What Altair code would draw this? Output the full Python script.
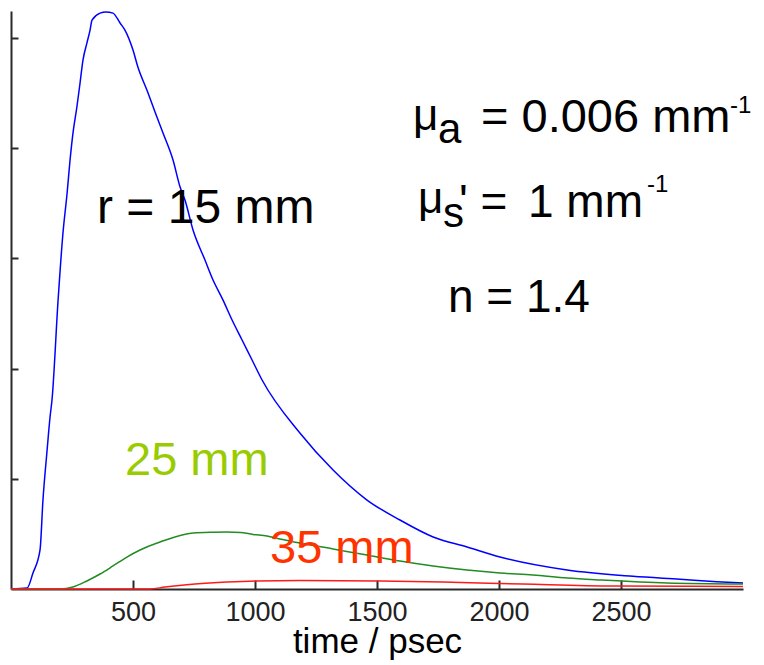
import altair as alt
import pandas as pd

# ---- data (time in ps, signal in arbitrary units) ----
t_15 = [0, 66, 90, 119, 131, 148, 160, 168, 193, 213, 230, 242, 254, 270, 283, 295, 311, 324, 332,
        365, 389, 418, 447, 467, 500, 520, 557, 598, 623, 664, 693, 713, 746, 795, 828, 869, 906,
        947, 988, 1029, 1184, 1320, 1459, 1594, 1730, 1869, 2004, 2279, 2549, 2742, 2893, 3000]
s_15 = [0, 0.009, 0.145, 0.354, 0.807, 1.261, 1.560, 1.714, 2.621, 3.229, 3.592, 3.891, 4.136,
        4.372, 4.590, 4.798, 4.952, 5.070, 5.161, 5.224, 5.235, 5.224, 5.134, 5.070, 4.889, 4.735,
        4.526, 4.281, 4.136, 3.891, 3.646, 3.528, 3.256, 2.984, 2.803, 2.621, 2.440, 2.259, 2.077,
        1.896, 1.415, 1.079, 0.807, 0.626, 0.472, 0.381, 0.290, 0.172, 0.115, 0.088, 0.066, 0.054]

t_25 = [0, 201, 254, 311, 365, 418, 475, 529, 611, 746, 830, 885, 940, 992, 1049, 1102, 1184, 1320,
        1459, 1594, 1730, 1869, 2004, 2139, 2279, 2414, 2689, 3000]
s_25 = [0, 0, 0.018, 0.073, 0.136, 0.209, 0.290, 0.354, 0.426, 0.508, 0.515, 0.517, 0.513, 0.495,
        0.481, 0.454, 0.417, 0.363, 0.308, 0.254, 0.209, 0.172, 0.145, 0.127, 0.100, 0.082, 0.054,
        0.045]

t_35 = [0, 570, 631, 754, 885, 1008, 1184, 1512, 1770, 2098, 2467, 3000]
s_35 = [0, 0, 0.018, 0.045, 0.063, 0.073, 0.077, 0.073, 0.063, 0.045, 0.027, 0.023]

series_names = ["15 mm", "25 mm", "35 mm"]
series_colors = ["#0000FF", "#228B22", "#FF1A1A"]
x_ticks = [500, 1000, 1500, 2000, 2500]
y_ticks = [1, 2, 3, 4, 5]

rows = []
for name, ts, ss in zip(series_names, [t_15, t_25, t_35], [s_15, s_25, s_35]):
    for i, (t, s) in enumerate(zip(ts, ss)):
        rows.append({"r": name, "t": t, "s": s, "i": i})
df = pd.DataFrame(rows)

W, H = 732, 578
FONT = "Liberation Sans"
AXIS_COLOR = "#2a2a2a"
xs = alt.Scale(domain=[0, 3000], nice=False, zero=False)
ys = alt.Scale(domain=[0, 5.243], nice=False, zero=True)

lines = alt.Chart(df).mark_line(strokeWidth=1.5, interpolate="monotone").encode(
    x=alt.X("t:Q", scale=xs, axis=alt.Axis(
        orient="bottom", domain=False, ticks=False, tickSize=0, grid=False, values=x_ticks,
        format="d", labelFont=FONT, labelFontSize=27, labelColor="#222222", labelPadding=31,
        labelBaseline="alphabetic", title="time / psec", titleFont=FONT, titleFontSize=35,
        titleFontWeight="normal", titleColor="#000000", titleBaseline="alphabetic", titleY=63)),
    y=alt.Y("s:Q", scale=ys, axis=alt.Axis(
        orient="right", offset=-W, values=y_ticks, labels=False, title=None, grid=False,
        tickSize=7, tickWidth=2, tickColor=AXIS_COLOR, domainColor=AXIS_COLOR, domainWidth=2)),
    color=alt.Color("r:N", scale=alt.Scale(domain=series_names, range=series_colors), legend=None),
    order="i:Q",
)

tick_axis = alt.Chart(df).mark_line(opacity=0).encode(
    x=alt.X("t:Q", scale=xs, axis=alt.Axis(
        orient="top", offset=-H, values=x_ticks, labels=False, title=None, grid=False,
        tickSize=9, tickWidth=2, tickColor=AXIS_COLOR, domainColor=AXIS_COLOR, domainWidth=2)),
    y=alt.Y("s:Q", scale=ys, axis=None),
    detail="r:N",
)

def label(text, x, y, size, color="#000000"):
    return alt.Chart(pd.DataFrame({"k": [0]})).mark_text(
        text=text, font=FONT, fontSize=size, color=color, align="left", baseline="alphabetic"
    ).encode(x=alt.value(x), y=alt.value(y))

texts = [
    label("r = 15 mm", 86, 212, 48),
    label("25 mm", 114, 464, 47, "#99CC00"),
    label("35 mm", 259, 552, 47, "#FF3300"),
    label("\u03bc", 402, 119, 44),
    label("a", 427, 132, 42),
    label("= 0.006 mm", 470, 121, 47),
    label("-1", 719, 102, 24),
    label("\u03bc", 407, 202, 44),
    label("s", 432, 216, 42),
    label("' =", 448, 206, 46),
    label("1 mm", 517, 206, 46),
    label("-1", 636, 181, 24),
    label("n = 1.4", 437, 301, 46),
]

chart = alt.layer(lines, tick_axis, *texts).resolve_axis(
    x="independent", y="independent"
).properties(
    width=W, height=H,
    padding={"left": 11, "top": 11, "right": 21, "bottom": 76},
    autosize=alt.AutoSizeParams(type="none"),
    background="white",
).configure_view(stroke=None)

chart.save("out.html", embed_options={"renderer": "svg", "actions": False})
